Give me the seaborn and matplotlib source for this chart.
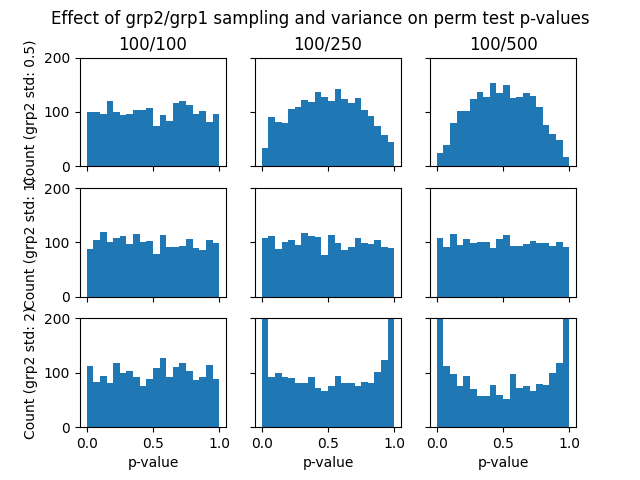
# Permutation test p-value histograms for different group sizes / grp2 std
import numpy as np
import pandas as pd
import matplotlib
matplotlib.use("Agg")
import matplotlib.pyplot as plt
import seaborn as sns

# Column titles (grp1/grp2 sample sizes) and row labels (grp2 std)
sizes = ["100/100", "100/250", "100/500"]
stds = ["0.5", "1", "2"]

# Counts per p-value bin (20 bins on 0..1)
counts_std05_100 = [100, 100, 96, 120, 100, 94, 96, 104, 104, 107,
                    74, 94, 83, 117, 120, 113, 96, 102, 81, 96]
counts_std05_250 = [33, 91, 81, 80, 106, 109, 122, 119, 137, 128,
                    120, 143, 124, 117, 126, 104, 93, 74, 57, 44]
counts_std05_500 = [24, 39, 80, 102, 102, 124, 137, 128, 154, 135,
                    150, 126, 128, 135, 130, 109, 76, 59, 48, 17]
counts_std1_100 = [88, 105, 119, 101, 108, 112, 97, 116, 101, 103,
                   79, 114, 92, 92, 94, 106, 90, 86, 105, 99]
counts_std1_250 = [108, 112, 88, 101, 105, 95, 118, 112, 110, 77,
                   114, 99, 86, 92, 108, 99, 97, 105, 92, 90]
counts_std1_500 = [108, 92, 116, 95, 106, 99, 101, 101, 90, 106,
                   114, 94, 94, 97, 103, 99, 99, 94, 101, 92]
counts_std2_100 = [112, 84, 95, 82, 119, 99, 103, 92, 75, 88,
                   108, 127, 92, 110, 118, 103, 86, 92, 114, 88]
counts_std2_250 = [220, 92, 99, 92, 90, 82, 82, 92, 73, 66,
                   75, 94, 82, 82, 75, 84, 82, 101, 123, 214]
counts_std2_500 = [285, 112, 97, 75, 94, 71, 58, 58, 77, 60,
                   51, 97, 73, 75, 66, 79, 77, 99, 118, 278]

grid = [
    [counts_std05_100, counts_std05_250, counts_std05_500],
    [counts_std1_100, counts_std1_250, counts_std1_500],
    [counts_std2_100, counts_std2_250, counts_std2_500],
]

n_bins = 20
centers = (np.arange(n_bins) + 0.5) / n_bins

fig, axes = plt.subplots(3, 3, sharex=True, sharey=True, figsize=(6.4, 4.8))

for i in range(3):
    for j in range(3):
        ax = axes[i, j]
        df = pd.DataFrame({"p": centers, "n": grid[i][j]})
        sns.histplot(data=df, x="p", weights="n", bins=n_bins, binrange=(0, 1),
                     ax=ax, color="#1f77b4", alpha=1, linewidth=0)
        ax.set_xlabel("")
        ax.set_ylabel("")
        if i == 0:
            ax.set_title(sizes[j])
        if i == 2:
            ax.set_xlabel("p-value")
        if j == 0:
            ax.set_ylabel(f"Count (grp2 std: {stds[i]})")

axes[0, 0].set_ylim(0, 200)
axes[0, 0].set_yticks([0, 100, 200])
axes[0, 0].set_xticks([0.0, 0.5, 1.0])

fig.suptitle("Effect of grp2/grp1 sampling and variance on perm test p-values")
fig.savefig("out.png", dpi=100)
